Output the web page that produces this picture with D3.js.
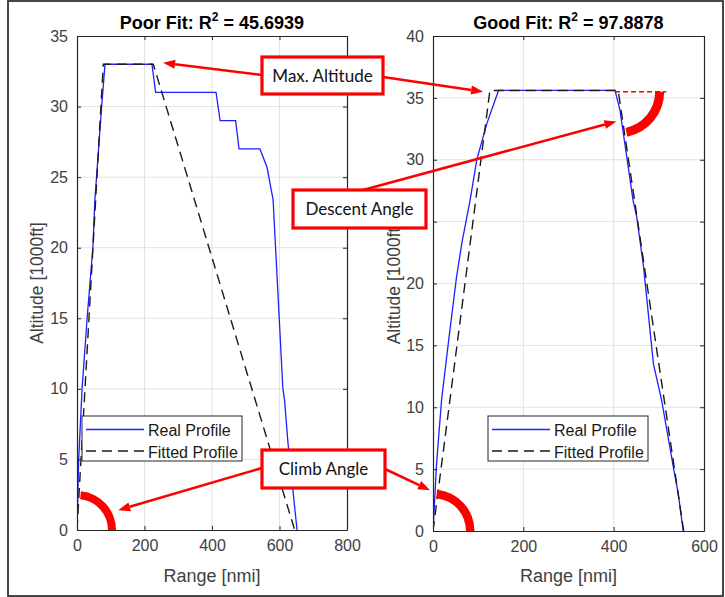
<!DOCTYPE html>
<html>
<head>
<meta charset="utf-8">
<script src="https://cdn.jsdelivr.net/npm/d3@7"></script>
<style>
  body { margin: 0; background: #fff; }
  svg { display: block; }
</style>
</head>
<body>
<svg id="fig" width="725" height="597"></svg>
<script>
// ---- Flight profiles: range [nmi] vs altitude [1000 ft] ----
// Poor fit flight
const poorRealRange = [0, 5, 15, 30, 47, 53, 73, 83, 222, 233, 412, 424, 470, 480, 542, 563, 581, 610, 615, 625, 652];
const poorRealAlt   = [0, 5, 10, 15, 20, 23.4, 30, 33, 33, 31, 31, 29, 29, 27, 27, 25.7, 23.4, 10, 9.2, 6.2, 0];
const poorFitRange  = [0, 78, 226, 645];
const poorFitAlt    = [0, 33, 33, 0];
const poorR2 = "45.6939";

// Good fit flight
const goodRealRange = [0, 8, 19, 34, 52, 64, 82, 97, 119, 145, 403, 414, 443, 451, 466, 488, 506, 532, 543, 554];
const goodRealAlt   = [0, 5.5, 10.6, 15.2, 20.5, 23.3, 26.7, 30, 32.9, 35.6, 35.6, 34, 26.7, 25.4, 21.4, 13.5, 10.6, 5.2, 3.0, 0];
const goodFitRange  = [0, 126, 410, 555];
const goodFitAlt    = [0, 35.6, 35.6, 0];
const goodR2 = "97.8878";

// Axis ticks
const poorXTicks = [0, 200, 400, 600, 800];
const poorYTicks = [0, 5, 10, 15, 20, 25, 30, 35];
const goodXTicks = [0, 200, 400, 600];
const goodYTicks = [0, 5, 10, 15, 20, 25, 30, 35, 40];

const legendLabels = ["Real Profile", "Fitted Profile"];

const svg = d3.select("#fig");
const FONT = "'Liberation Sans', Arial, Helvetica, sans-serif";
const AXIS_COL = "#262626";
const TEXT_COL = "#404040";

// outer frame
svg.append("rect").attr("x", 8).attr("y", 1).attr("width", 715).attr("height", 595)
  .attr("fill", "#fff").attr("stroke", "#333").attr("stroke-width", 1.8);

function drawPanel(cfg) {
  const x = d3.scaleLinear().domain(cfg.xDomain).range([cfg.left, cfg.right]);
  const y = d3.scaleLinear().domain(cfg.yDomain).range([cfg.bottom, cfg.top]);
  const g = svg.append("g");

  g.append("rect").attr("x", cfg.left).attr("y", cfg.top)
    .attr("width", cfg.right - cfg.left).attr("height", cfg.bottom - cfg.top).attr("fill", "#fff");

  // grid
  g.append("g").selectAll("line").data(cfg.xTicks.slice(1, -1)).join("line")
    .attr("x1", d => x(d)).attr("x2", d => x(d)).attr("y1", cfg.top).attr("y2", cfg.bottom)
    .attr("stroke", "#e3e3e3").attr("stroke-width", 1);
  g.append("g").selectAll("line").data(cfg.yTicks.slice(1, -1)).join("line")
    .attr("y1", d => y(d)).attr("y2", d => y(d)).attr("x1", cfg.left).attr("x2", cfg.right)
    .attr("stroke", "#e3e3e3").attr("stroke-width", 1);

  const clip = "clip-" + cfg.id;
  g.append("clipPath").attr("id", clip).append("rect")
    .attr("x", cfg.left).attr("y", cfg.top).attr("width", cfg.right - cfg.left).attr("height", cfg.bottom - cfg.top + 1);
  const plot = g.append("g").attr("clip-path", `url(#${clip})`);

  const line = d3.line().x(d => x(d[0])).y(d => y(d[1]));

  // real profile
  plot.append("path").datum(d3.zip(cfg.realRange, cfg.realAlt))
    .attr("d", line).attr("fill", "none").attr("stroke", "#1f1fff").attr("stroke-width", 1.3);
  // fitted profile
  plot.append("path").datum(d3.zip(cfg.fitRange, cfg.fitAlt))
    .attr("d", line).attr("fill", "none").attr("stroke", "#1a1a1a").attr("stroke-width", 1.4)
    .attr("stroke-dasharray", "10,6");

  // climb angle arc at the origin
  const climbArc = d3.arc().innerRadius(cfg.climbArc[0]).outerRadius(cfg.climbArc[1])
    .startAngle(0.1).endAngle(Math.PI / 2);
  plot.append("path").attr("d", climbArc())
    .attr("transform", `translate(${x(0)},${y(0)})`).attr("fill", "#ff0000");

  // descent angle marker (top of descent)
  if (cfg.descent) {
    const [r0, a0] = cfg.descent.corner;
    const cx = x(r0), cy = y(a0);
    plot.append("line").attr("x1", x(cfg.descent.from)).attr("x2", cx + cfg.descent.outer + 2)
      .attr("y1", cy).attr("y2", cy)
      .attr("stroke", "#ff0000").attr("stroke-width", 1.5).attr("stroke-dasharray", "5,3");
    const dArc = d3.arc().innerRadius(cfg.descent.inner).outerRadius(cfg.descent.outer)
      .startAngle(Math.PI / 2).endAngle(Math.PI - 0.2);
    plot.append("path").attr("d", dArc()).attr("transform", `translate(${cx},${cy})`).attr("fill", "#ff0000");
  }

  // legend
  const lg = g.append("g").attr("transform", `translate(${cfg.legend[0]},${cfg.legend[1]})`);
  lg.append("rect").attr("x", 0).attr("y", 0).attr("width", 160).attr("height", 45)
    .attr("fill", "#fff").attr("stroke", AXIS_COL).attr("stroke-width", 1);
  const styles = [{ c: "#1f1fff", w: 1.3, dash: null }, { c: "#1a1a1a", w: 1.4, dash: "10,6" }];
  legendLabels.forEach((lab, i) => {
    const yy = 13.5 + i * 21.5;
    lg.append("line").attr("x1", 4).attr("x2", 62).attr("y1", yy).attr("y2", yy)
      .attr("stroke", styles[i].c).attr("stroke-width", styles[i].w)
      .attr("stroke-dasharray", styles[i].dash);
    lg.append("text").attr("x", 66).attr("y", yy + 6.5).text(lab)
      .attr("font-family", FONT).attr("font-size", 16).attr("fill", "#1a1a1a");
  });

  // axes with inward ticks on all four sides
  const tk = 4;
  const axB = d3.axisBottom(x).tickValues(cfg.xTicks).tickSizeInner(-tk).tickSizeOuter(0).tickPadding(10);
  const axL = d3.axisLeft(y).tickValues(cfg.yTicks).tickSizeInner(-tk).tickSizeOuter(0).tickPadding(9);
  const axT = d3.axisTop(x).tickValues(cfg.xTicks).tickSizeInner(-tk).tickSizeOuter(0).tickFormat("");
  const axR = d3.axisRight(y).tickValues(cfg.yTicks).tickSizeInner(-tk).tickSizeOuter(0).tickFormat("");
  const styleAxis = sel => {
    sel.select(".domain").attr("stroke", AXIS_COL).attr("stroke-width", 1.2);
    sel.selectAll(".tick line").attr("stroke", AXIS_COL).attr("stroke-width", 1);
    sel.selectAll(".tick text").attr("font-family", FONT).attr("font-size", 16).attr("fill", TEXT_COL);
  };
  g.append("g").attr("transform", `translate(0,${cfg.bottom})`).call(axB).call(styleAxis);
  g.append("g").attr("transform", `translate(${cfg.left},0)`).call(axL).call(styleAxis);
  g.append("g").attr("transform", `translate(0,${cfg.top})`).call(axT).call(styleAxis);
  g.append("g").attr("transform", `translate(${cfg.right},0)`).call(axR).call(styleAxis);

  // title
  const cxm = (cfg.left + cfg.right) / 2;
  const t = g.append("text").attr("x", cxm).attr("y", 28.5).attr("text-anchor", "middle")
    .attr("font-family", FONT).attr("font-size", 18).attr("font-weight", "bold").attr("fill", "#000");
  t.append("tspan").text(cfg.titleLead + ": R");
  t.append("tspan").attr("font-size", 12).attr("dy", -8).text("2");
  t.append("tspan").attr("dy", 8).text(" = " + cfg.r2);

  // axis labels
  g.append("text").attr("x", cxm).attr("y", 582).attr("text-anchor", "middle")
    .attr("font-family", FONT).attr("font-size", 18).attr("fill", TEXT_COL).text("Range [nmi]");
  g.append("text").attr("transform", `translate(${cfg.ylabX},${(cfg.top + cfg.bottom) / 2}) rotate(-90)`)
    .attr("text-anchor", "middle").attr("font-family", FONT).attr("font-size", 17.5)
    .attr("fill", TEXT_COL).text("Altitude [1000ft]");

  return { x, y };
}

const poor = drawPanel({
  id: "poor", left: 77, right: 347, top: 36, bottom: 530,
  xDomain: [0, 800], yDomain: [0, 35], xTicks: poorXTicks, yTicks: poorYTicks,
  realRange: poorRealRange, realAlt: poorRealAlt, fitRange: poorFitRange, fitAlt: poorFitAlt,
  climbArc: [31, 39], legend: [82, 416], titleLead: "Poor Fit", r2: poorR2, ylabX: 43
});

const good = drawPanel({
  id: "good", left: 433, right: 704, top: 36, bottom: 531,
  xDomain: [0, 600], yDomain: [0, 40], xTicks: goodXTicks, yTicks: goodYTicks,
  realRange: goodRealRange, realAlt: goodRealAlt, fitRange: goodFitRange, fitAlt: goodFitAlt,
  climbArc: [33, 41.5], legend: [488, 416], titleLead: "Good Fit", r2: goodR2, ylabX: 400,
  descent: { corner: [410, 35.5], from: 403, inner: 37, outer: 46 }
});

// ---- callouts ----
const RED = "#ff0000";
const callouts = [
  { text: "Max. Altitude", box: [262, 57, 121, 37],
    arrows: [{ from: [262, 75], to: () => [poor.x(255), poor.y(33.1)] },
             { from: [383, 77], to: () => [good.x(111), good.y(35.5)] }] },
  { text: "Descent Angle", box: [293, 190, 133, 38],
    arrows: [{ from: [363, 190], to: () => [good.x(406), good.y(33.1)] }] },
  { text: "Climb Angle", box: [262, 450, 123, 38],
    arrows: [{ from: [262, 468], to: () => [poor.x(122), poor.y(1.4)] },
             { from: [385, 469], to: () => [good.x(-6.5), good.y(3.3)] }] }
];

const cg = svg.append("g");
callouts.forEach(c => {
  c.arrows.forEach(a => {
    const [x1, y1] = a.from;
    const [x2, y2] = a.to();
    const ang = Math.atan2(y2 - y1, x2 - x1);
    const L = 12, W = 4.5;
    const bx = x2 - L * Math.cos(ang), by = y2 - L * Math.sin(ang);
    cg.append("line").attr("x1", x1).attr("y1", y1).attr("x2", bx).attr("y2", by)
      .attr("stroke", RED).attr("stroke-width", 2.6);
    const p = [[x2, y2],
               [bx + W * Math.sin(ang), by - W * Math.cos(ang)],
               [bx - W * Math.sin(ang), by + W * Math.cos(ang)]];
    cg.append("path").attr("d", "M" + p.map(q => q.join(",")).join("L") + "Z").attr("fill", RED);
  });
  const [bx, by, bw, bh] = c.box;
  cg.append("rect").attr("x", bx).attr("y", by).attr("width", bw).attr("height", bh)
    .attr("fill", "#fff").attr("stroke", RED).attr("stroke-width", 3.2);
  cg.append("text").attr("x", bx + bw / 2).attr("y", by + bh / 2 + 6).attr("text-anchor", "middle")
    .attr("font-family", "Lato, 'Open Sans', sans-serif").attr("font-size", 17).attr("fill", "#111")
    .text(c.text);
});
</script>
</body>
</html>
